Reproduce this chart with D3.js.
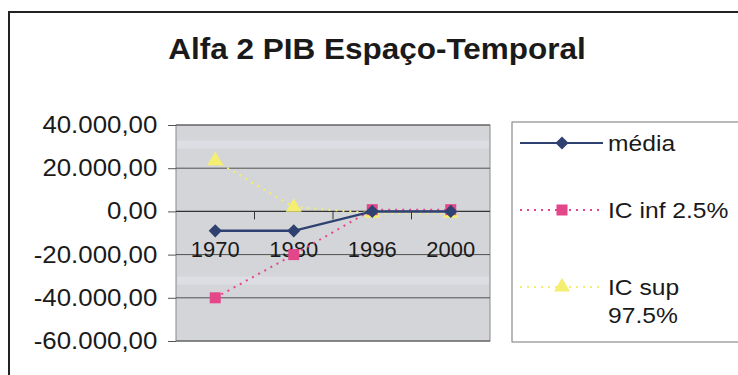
<!DOCTYPE html>
<html>
<head>
<meta charset="utf-8">
<script src="https://cdn.jsdelivr.net/npm/d3@7"></script>
<style>
  body { margin: 0; background: #fff; }
  svg { display: block; font-family: "Liberation Sans", Arial, sans-serif; }
</style>
</head>
<body>
<div id="chart"></div>
<script>
// data
var years = ["1970", "1980", "1996", "2000"];
var media = [-9000, -9000, 0, 0];
var icInf = [-40000, -20000, 800, 800];
var icSup = [23500, 2000, -800, -800];
var yTicks = [40000, 20000, 0, -20000, -40000, -60000];

var W = 738, H = 375;
var svg = d3.select("#chart").append("svg")
    .attr("width", W)
    .attr("height", H);

// text that is a bit wider than the font (the scan is stretched sideways)
function label(g, x, y, str, size, sx, anchor, weight) {
    return g.append("text")
        .attr("transform", "translate(" + x + "," + y + ") scale(" + sx + ",1)")
        .attr("text-anchor", anchor || "start")
        .style("font-size", size + "px")
        .style("font-weight", weight || "normal")
        .attr("fill", "#1a1a1a")
        .text(str);
}

// outer chart frame (runs off the right and bottom edge)
svg.append("rect")
    .attr("x", 9).attr("y", 12)
    .attr("width", 820).attr("height", 420)
    .attr("fill", "#fff")
    .attr("stroke", "#222")
    .attr("stroke-width", 2);

label(svg, 377, 59, "Alfa 2 PIB Espaço-Temporal", 30, 1.05, "middle", "bold");

var plot = { left: 176, right: 490, top: 125, bottom: 341 };

var x = d3.scaleBand().domain(years).range([plot.left, plot.right]);
var y = d3.scaleLinear().domain([-60000, 40000]).range([plot.bottom, plot.top]);

// plot area
svg.append("rect")
    .attr("x", plot.left).attr("y", plot.top)
    .attr("width", plot.right - plot.left)
    .attr("height", plot.bottom - plot.top)
    .attr("fill", "#d4d5d8")
    .attr("stroke", "#8a8a8a");

// faint light stripes as in the scan
[31000, -32000].forEach(function (v) {
    svg.append("rect")
        .attr("x", plot.left + 1).attr("width", plot.right - plot.left - 2)
        .attr("y", y(v) - 4).attr("height", 8)
        .attr("fill", "#e2e6ec").attr("opacity", 0.55);
});

// gridlines
svg.selectAll(".grid")
    .data(yTicks.filter(function (d) { return d !== 0; }))
    .enter().append("line")
    .attr("class", "grid")
    .attr("x1", plot.left).attr("x2", plot.right)
    .attr("y1", function (d) { return y(d); })
    .attr("y2", function (d) { return y(d); })
    .attr("stroke", "#505050")
    .attr("stroke-width", 1);

// y axis labels and ticks
var yAxis = d3.axisLeft(y)
    .tickValues(yTicks)
    .tickSize(8)
    .tickPadding(9)
    .tickFormat(function (d) {
        var s = d3.format(",.2f")(d);
        return s.replace(/,/g, "#").replace(".", ",").replace(/#/g, ".").replace("\u2212", "-");
    });
var gy = svg.append("g")
    .attr("transform", "translate(" + plot.left + ",0)")
    .call(yAxis);
gy.select(".domain").remove();
gy.selectAll(".tick line").attr("stroke", "#555");
gy.selectAll(".tick text")
    .style("font-size", "23.5px")
    .attr("transform", "scale(1.1,1)")
    .attr("fill", "#1a1a1a");

// x axis at zero
var y0 = y(0);
svg.append("line")
    .attr("x1", plot.left).attr("x2", plot.right)
    .attr("y1", y0).attr("y2", y0)
    .attr("stroke", "#333").attr("stroke-width", 1.2);
svg.selectAll(".xtick")
    .data(years.slice(1))
    .enter().append("line")
    .attr("x1", function (d) { return x(d); })
    .attr("x2", function (d) { return x(d); })
    .attr("y1", y0).attr("y2", y0 + 8)
    .attr("stroke", "#333");
years.forEach(function (d) {
    label(svg, x(d) + x.bandwidth() / 2, y0 + 46, d, 21.5, 1.02, "middle");
});

var cx = function (d, i) { return x(years[i]) + x.bandwidth() / 2; };
var line = d3.line().x(cx).y(function (d) { return y(d); });

var series = [
    { name: "média", vals: media, color: "#2e4170", dash: null, width: 2.5, shape: "diamond" },
    { name: "IC inf 2.5%", vals: icInf, color: "#e4468a", dash: "2,5", width: 2, shape: "square" },
    { name: "IC sup 97.5%", vals: icSup, color: "#f4ef70", dash: "2,5", width: 2, shape: "triangle" }
];

function marker(g, s, px, py) {
    if (s.shape === "diamond") {
        g.append("path")
            .attr("d", d3.symbol().type(d3.symbolDiamond2).size(110)())
            .attr("transform", "translate(" + px + "," + py + ")")
            .attr("fill", s.color);
    } else if (s.shape === "square") {
        g.append("rect")
            .attr("x", px - 5.5).attr("y", py - 5.5)
            .attr("width", 11).attr("height", 11)
            .attr("fill", s.color);
    } else {
        g.append("path")
            .attr("d", d3.symbol().type(d3.symbolTriangle).size(110)())
            .attr("transform", "translate(" + px + "," + py + ")")
            .attr("fill", s.color);
    }
}

// draw yellow first, then pink, then navy on top
[series[2], series[1], series[0]].forEach(function (s) {
    var g = svg.append("g");
    g.append("path")
        .datum(s.vals)
        .attr("d", line)
        .attr("fill", "none")
        .attr("stroke", s.color)
        .attr("stroke-width", s.width)
        .attr("stroke-dasharray", s.dash);
    s.vals.forEach(function (v, i) { marker(g, s, cx(v, i), y(v)); });
});

// legend
var leg = svg.append("g");
leg.append("rect")
    .attr("x", 512).attr("y", 122)
    .attr("width", 260).attr("height", 220)
    .attr("fill", "#fff")
    .attr("stroke", "#777");

var legY = [143, 210, 287];
series.forEach(function (s, i) {
    leg.append("line")
        .attr("x1", 520).attr("x2", 603)
        .attr("y1", legY[i]).attr("y2", legY[i])
        .attr("stroke", s.color)
        .attr("stroke-width", s.width === 2.5 ? 1.8 : s.width)
        .attr("stroke-dasharray", s.dash);
    marker(leg, s, 562, legY[i]);
});
label(leg, 608, legY[0] + 8, "média", 22, 1.12);
label(leg, 608, legY[1] + 8, "IC inf 2.5%", 22, 1.12);
label(leg, 608, legY[2] + 8, "IC sup", 22, 1.12);
label(leg, 608, legY[2] + 36, "97.5%", 22, 1.12);
</script>
</body>
</html>
